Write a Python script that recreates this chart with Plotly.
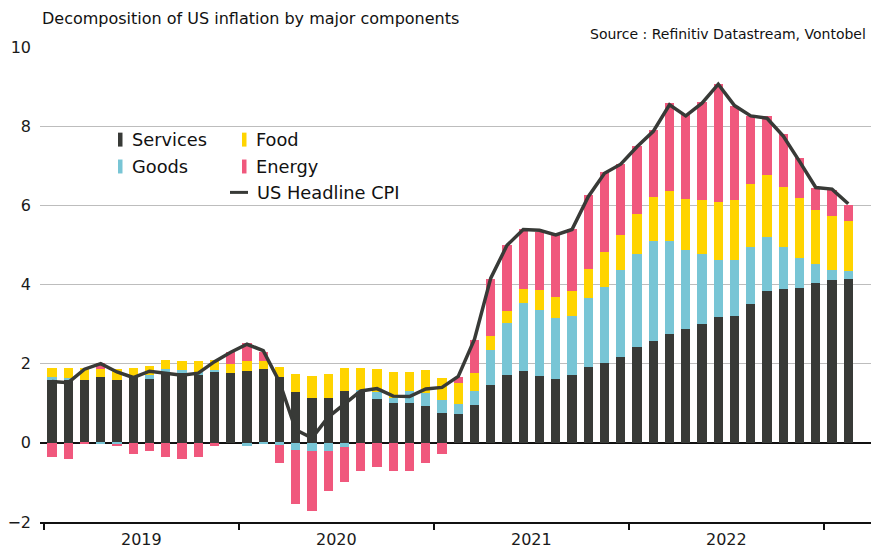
import plotly.graph_objects as go

months = [f"{y}-{m:02d}" for y in range(2019, 2024) for m in range(1, 13)][:50]

services = [
    1.61, 1.59, 1.59, 1.67, 1.59, 1.66, 1.62, 1.78, 1.76, 1.72, 1.80, 1.77,
    1.82, 1.87, 1.67, 1.29, 1.14, 1.14, 1.31, 1.30, 1.11, 1.01, 1.01, 0.94,
    0.76, 0.74, 0.96, 1.46, 1.72, 1.82, 1.69, 1.62, 1.72, 1.92, 2.02, 2.17,
    2.42, 2.57, 2.75, 2.87, 3.00, 3.17, 3.20, 3.50, 3.83, 3.88, 3.90, 4.03,
    4.11, 4.13]
goods = [
    0.05, 0.05, 0.00, -0.04, -0.04, 0.00, 0.10, 0.08, 0.09, 0.08, 0.03, 0.00,
    -0.07, -0.03, -0.05, -0.17, -0.21, -0.21, -0.11, 0.04, 0.18, 0.13, 0.29, 0.33,
    0.33, 0.25, 0.36, 0.88, 1.31, 1.71, 1.66, 1.53, 1.48, 1.74, 1.91, 2.19,
    2.36, 2.52, 2.34, 1.99, 1.76, 1.46, 1.43, 1.46, 1.36, 1.06, 0.78, 0.48,
    0.25, 0.20]
food = [
    0.24, 0.26, 0.30, 0.20, 0.28, 0.24, 0.22, 0.23, 0.23, 0.28, 0.27, 0.23,
    0.24, 0.19, 0.25, 0.45, 0.55, 0.60, 0.58, 0.55, 0.58, 0.65, 0.49, 0.58,
    0.55, 0.53, 0.44, 0.35, 0.30, 0.35, 0.50, 0.53, 0.63, 0.73, 0.88, 0.88,
    1.01, 1.11, 1.26, 1.31, 1.38, 1.46, 1.51, 1.58, 1.58, 1.53, 1.51, 1.38,
    1.38, 1.28]
energy = [
    -0.37, -0.40, -0.04, 0.15, -0.05, -0.29, -0.20, -0.37, -0.40, -0.37, -0.07, 0.29,
    0.45, 0.23, -0.45, -1.38, -1.52, -1.01, -0.89, -0.72, -0.60, -0.72, -0.72, -0.50,
    -0.27, 0.15, 0.83, 1.46, 1.66, 1.51, 1.48, 1.56, 1.56, 1.86, 2.03, 1.80,
    1.70, 1.70, 2.23, 2.10, 2.48, 2.98, 2.38, 1.71, 1.48, 1.33, 1.01, 0.55,
    0.65, 0.40]
cpi = [
    1.55, 1.52, 1.86, 2.00, 1.79, 1.65, 1.81, 1.75, 1.71, 1.76, 2.05, 2.29,
    2.49, 2.33, 1.54, 0.33, 0.12, 0.65, 0.99, 1.31, 1.37, 1.18, 1.17, 1.36,
    1.40, 1.68, 2.62, 4.16, 4.99, 5.39, 5.37, 5.25, 5.39, 6.22, 6.81, 7.04,
    7.48, 7.87, 8.54, 8.26, 8.58, 9.06, 8.52, 8.26, 8.20, 7.75, 7.11, 6.45,
    6.41, 6.04]
years = ["2019", "2020", "2021", "2022"]
y_ticks = [-2, 0, 2, 4, 6, 8, 10]

C_SERV = "#383a37"
C_GOODS = "#78c5d5"
C_FOOD = "#ffd400"
C_ENERGY = "#f0587d"

FONT = "DejaVu Sans"
W, H = 871, 549
ML, MR, MT, MB = 40, 0, 47, 25

x = list(range(len(months)))

fig = go.Figure()
for name, vals, col in [("Services", services, C_SERV), ("Goods", goods, C_GOODS),
                        ("Food", food, C_FOOD), ("Energy", energy, C_ENERGY)]:
    fig.add_bar(x=x, y=vals, name=name, marker=dict(color=col, line=dict(width=0)),
                width=0.56, customdata=months)
fig.add_scatter(x=x, y=cpi, mode="lines", name="US Headline CPI",
                line=dict(color=C_SERV, width=3.5))

year_mid = [12 * i + 5.5 for i in range(len(years))]
year_bounds = [12 * i - 0.5 for i in range(len(years) + 1)]

fig.update_layout(
    width=W, height=H, barmode="relative", showlegend=False,
    margin=dict(l=ML, r=MR, t=MT, b=MB),
    plot_bgcolor="white", paper_bgcolor="white",
    font=dict(family=FONT, color="#1a1a1a"),
    bargap=0,
    xaxis=dict(range=[-0.738, 50.4], tickmode="array", tickvals=year_mid, ticktext=years,
               ticks="", showgrid=False, zeroline=False,
               showline=True, linecolor="#111", linewidth=1.5,
               tickfont=dict(size=16), ticklabelstandoff=2,
               minor=dict(tickmode="array", tickvals=year_bounds, ticks="outside",
                          ticklen=6, tickcolor="#111", tickwidth=1.5, showgrid=False)),
    yaxis=dict(range=[-2, 10], tickmode="array", tickvals=y_ticks,
               showgrid=True, gridcolor="#bdbdbd", gridwidth=1.2,
               zeroline=True, zerolinecolor="#111", zerolinewidth=2,
               ticks="", ticklabelstandoff=8, tickfont=dict(size=16)),
)

pw = W - ML - MR
ph = H - MT - MB
def px(p):
    return (p - ML) / pw
def py(p):
    return (H - MB - p) / ph

shapes = []
annots = []
legend_items = [
    ("Services", C_SERV, 118, 140, "bar"),
    ("Goods", C_GOODS, 118, 167, "bar"),
    ("Food", C_FOOD, 242, 140, "bar"),
    ("Energy", C_ENERGY, 242, 167, "bar"),
    ("US Headline CPI", C_SERV, 242, 193, "line"),
]
for label, col, mx, my, kind in legend_items:
    if kind == "bar":
        shapes.append(dict(type="rect", xref="paper", yref="paper",
                           x0=px(mx), x1=px(mx + 4.5), y0=py(my + 7), y1=py(my - 7),
                           fillcolor=col, line=dict(width=0)))
        tx = mx + 12
    else:
        shapes.append(dict(type="line", xref="paper", yref="paper",
                           x0=px(230), x1=px(248), y0=py(my), y1=py(my),
                           line=dict(color=col, width=3)))
        tx = 255
    annots.append(dict(text=label, xref="paper", yref="paper", x=px(tx), y=py(my),
                       xanchor="left", yanchor="middle", showarrow=False,
                       font=dict(size=17.8, family=FONT, color="#111")))

annots.append(dict(text="Decomposition of US inflation by major components",
                   xref="paper", yref="paper", x=px(40), y=py(18), xanchor="left",
                   yanchor="middle", showarrow=False,
                   font=dict(size=16, family=FONT, color="#111")))
annots.append(dict(text="Source : Refinitiv Datastream, Vontobel",
                   xref="paper", yref="paper", x=px(868), y=py(34), xanchor="right",
                   yanchor="middle", showarrow=False,
                   font=dict(size=14, family=FONT, color="#111")))

fig.update_layout(shapes=shapes, annotations=annots)
fig.write_html("out.html", config={"displayModeBar": False},
               post_script="document.body.style.margin='0';")
